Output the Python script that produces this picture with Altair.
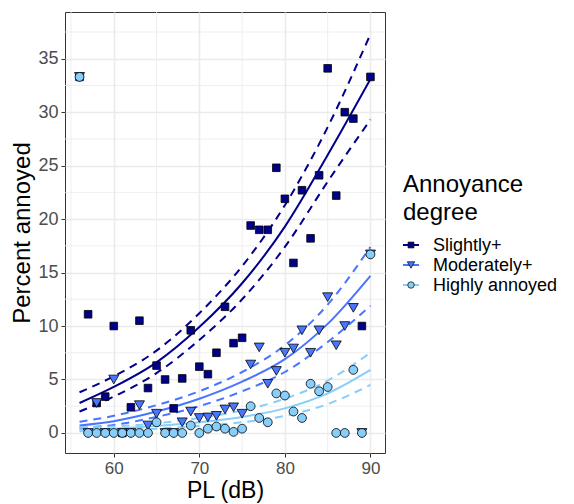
import altair as alt
import pandas as pd

# ---- data ----
pl = list(range(56, 91))
slightly = [33.3, 11.1, 2.8, 3.4, 10.0, 0.0, 2.4, 10.5, 4.2, 6.3,
            5.0, 2.3, 5.1, 9.6, 6.2, 5.5, 7.5, 11.8, 8.4, 8.9,
            19.4, 19.0, 19.0, 24.8, 21.9, 15.9, 22.7, 18.2, 24.1, 34.1,
            22.2, 30.0, 29.4, 10.0, 33.3]
moderately = [33.3, 0.0, 2.8, 0.0, 5.0, 0.0, 0.0, 2.6, 0.7, 1.8,
              0.0, 0.0, 1.0, 2.0, 1.4, 1.45, 1.6, 2.2, 2.4, 1.8,
              6.4, 8.0, 4.6, 5.8, 7.5, 7.9, 9.6, 7.5, 9.6, 12.7,
              8.2, 10.0, 11.7, 0.0, 16.7]
highly = [33.3, 0.0, 0.0, 0.0, 0.0, 0.0, 0.0, 0.0, 0.0, 1.0,
          0.0, 0.0, 0.0, 0.7, 0.0, 0.4, 0.6, 0.4, 0.1, 0.4,
          2.5, 1.4, 1.0, 3.7, 3.5, 2.0, 1.4, 4.6, 3.9, 4.3,
          0.0, 0.0, 5.9, 0.0, 16.7]

fit_x = [56, 60, 65, 70, 75, 80, 85, 90]
fit_slightly = [2.8, 4.3, 6.6, 9.9, 14.0, 19.3, 26.0, 33.1]
fit_slightly_lo = [2.0, 3.4, 5.6, 8.7, 12.5, 17.4, 23.5, 29.3]
fit_slightly_hi = [3.8, 5.3, 7.7, 11.2, 15.6, 21.3, 28.6, 37.3]
fit_moderately = [0.7, 1.1, 2.0, 3.2, 4.8, 6.9, 10.2, 14.7]
fit_moderately_lo = [0.45, 0.75, 1.5, 2.5, 3.9, 5.7, 8.5, 11.9]
fit_moderately_hi = [1.05, 1.6, 2.6, 3.9, 5.7, 8.2, 12.0, 17.4]
fit_highly = [0.3, 0.4, 0.65, 1.0, 1.5, 2.3, 3.7, 5.9]
fit_highly_lo = [0.15, 0.22, 0.4, 0.65, 1.0, 1.6, 2.7, 4.5]
fit_highly_hi = [0.5, 0.6, 0.9, 1.4, 2.1, 3.2, 4.9, 7.5]

degrees = ["Slightly+", "Moderately+", "Highly annoyed"]
legend_title = ["Annoyance", "degree"]
colors = ["#00008B", "#4876FF", "#87CEFA"]
shapes = ["square", "triangle-down", "circle"]
sizes = [58, 100, 78]
legend_sizes = [34, 55, 42]

x_major = [60, 70, 80, 90]
x_minor = [55, 65, 75, 85]
y_major = [0, 5, 10, 15, 20, 25, 30, 35]
y_minor = [2.5, 7.5, 12.5, 17.5, 22.5, 27.5, 32.5, 37.5]

FONT = "Liberation Sans"

# ---- tables ----
pts = pd.DataFrame({
    "PL": pl * 3,
    "pct": slightly + moderately + highly,
    "degree": [degrees[0]] * len(pl) + [degrees[1]] * len(pl) + [degrees[2]] * len(pl),
})
fits = pd.DataFrame({
    "PL": fit_x * 3,
    "fit": fit_slightly + fit_moderately + fit_highly,
    "lo": fit_slightly_lo + fit_moderately_lo + fit_highly_lo,
    "hi": fit_slightly_hi + fit_moderately_hi + fit_highly_hi,
    "series": [d for d in degrees for _ in fit_x],
})
bounds = fits.melt(id_vars=["PL", "series"], value_vars=["lo", "hi"],
                   var_name="bound", value_name="val")

xs = alt.Scale(domain=[54.3, 91.7], nice=False, zero=False)
ys = alt.Scale(domain=[-1.875, 39.37], nice=False, zero=False)
stroke_scale = alt.Scale(domain=degrees, range=colors)

x_axis = alt.Axis(values=x_major, title="PL (dB)", grid=True, tickSize=4,
                  labelPadding=3, titlePadding=3, labelFontSize=17,
                  titleFontSize=23)
y_axis = alt.Axis(values=y_major, title="Percent annoyed", grid=True, tickSize=4,
                  labelPadding=3, titlePadding=3)

xgrid = alt.Chart(pd.DataFrame({"v": x_minor})).mark_rule(
    color="#EBEBEB", strokeWidth=0.8).encode(x=alt.X("v:Q", scale=xs, axis=x_axis))
ygrid = alt.Chart(pd.DataFrame({"v": y_minor})).mark_rule(
    color="#EBEBEB", strokeWidth=0.8).encode(y=alt.Y("v:Q", scale=ys, axis=y_axis))

band = alt.Chart(bounds).mark_line(strokeWidth=2, strokeDash=[8, 6],
                                   interpolate="monotone", clip=True).encode(
    x=alt.X("PL:Q", scale=xs, title="PL (dB)"),
    y=alt.Y("val:Q", scale=ys, title="Percent annoyed"),
    stroke=alt.Stroke("series:N", scale=stroke_scale, legend=None),
    detail=["series:N", "bound:N"],
)
fitline = alt.Chart(fits).mark_line(strokeWidth=2, interpolate="monotone",
                                    clip=True).encode(
    x=alt.X("PL:Q", scale=xs, title="PL (dB)"),
    y=alt.Y("fit:Q", scale=ys, title="Percent annoyed"),
    stroke=alt.Stroke("series:N", scale=stroke_scale, legend=None),
    detail="series:N",
)

fill_enc = alt.Fill("degree:N", scale=alt.Scale(domain=degrees, range=colors),
                    legend=None)
shape_enc = alt.Shape("degree:N", scale=alt.Scale(domain=degrees, range=shapes),
                      legend=None)

point_layers = []
for d, s in zip(degrees, sizes):
    point_layers.append(
        alt.Chart(pts).transform_filter(alt.datum.degree == d).mark_point(
            filled=True, stroke="black", strokeWidth=0.8, opacity=1, size=s
        ).encode(
            x=alt.X("PL:Q", scale=xs, title="PL (dB)"),
            y=alt.Y("pct:Q", scale=ys, title="Percent annoyed"),
            fill=fill_enc,
            shape=shape_enc,
        )
    )

# ---- legend (drawn beside the panel, positions relative to plot origin) ----
LX = 338          # left edge of legend
legend_layers = []
for i, line in enumerate(legend_title):
    legend_layers.append(
        alt.Chart(pd.DataFrame({"t": [line]})).mark_text(
            align="left", baseline="alphabetic", font=FONT, fontSize=24,
            color="black"
        ).encode(x=alt.value(LX), y=alt.value(180 + 28 * i), text="t:N")
    )
for i, (d, c, sh, ls) in enumerate(zip(degrees, colors, shapes, legend_sizes)):
    yc = 233 + 20 * i
    one = pd.DataFrame({"degree": [d]})
    legend_layers.append(
        alt.Chart(one).mark_rule(color=c, strokeWidth=2).encode(
            x=alt.value(LX), x2=alt.value(LX + 16), y=alt.value(yc))
    )
    legend_layers.append(
        alt.Chart(one).mark_point(filled=True, stroke="black", strokeWidth=0.7,
                                  opacity=1, shape=sh, fill=c, size=ls).encode(
            x=alt.value(LX + 8), y=alt.value(yc))
    )
    legend_layers.append(
        alt.Chart(one).mark_text(align="left", baseline="middle", font=FONT,
                                 fontSize=18, color="black").encode(
            x=alt.value(LX + 30), y=alt.value(yc + 1), text="degree:N")
    )

chart = alt.layer(xgrid, ygrid, band, fitline, *point_layers, *legend_layers).properties(
    width=320, height=441,
    autosize=alt.AutoSizeParams(type="none"),
    padding={"left": 65, "top": 12, "right": 189, "bottom": 51},
).configure_view(
    stroke="#333333", strokeWidth=1
).configure_axis(
    gridColor="#EBEBEB", gridWidth=1.6, domain=False,
    tickColor="#333333", tickWidth=1,
    labelFont=FONT, labelFontSize=18, labelColor="#4D4D4D",
    titleFont=FONT, titleFontSize=24, titleFontWeight="normal",
    titleColor="black",
)

chart.save("out.html", embed_options={"renderer": "svg", "actions": False})
